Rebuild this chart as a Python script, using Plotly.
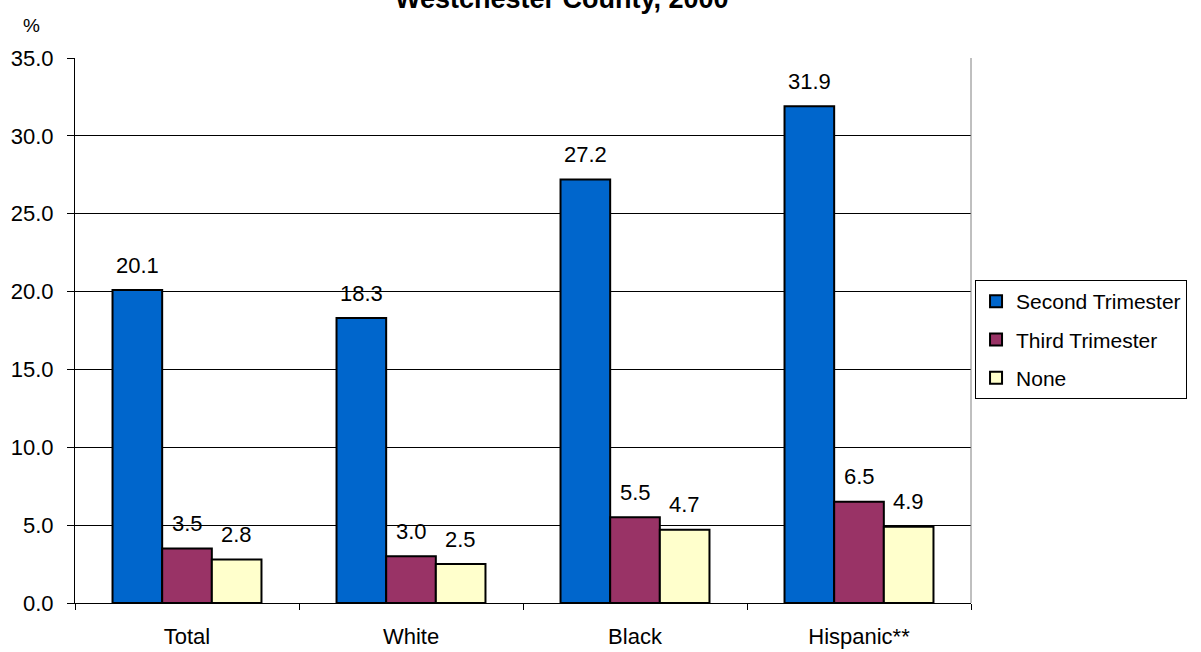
import plotly.graph_objects as go

categories = ["Total", "White", "Black", "Hispanic**"]
second_trimester = [20.1, 18.3, 27.2, 31.9]
third_trimester = [3.5, 3.0, 5.5, 6.5]
none_care = [2.8, 2.5, 4.7, 4.9]
series_names = ["Second Trimester", "Third Trimester", "None"]
y_ticks = [0, 5, 10, 15, 20, 25, 30, 35]

colors = ["#0066CC", "#993366", "#FFFFCC"]
FONT = "Liberation Sans, Arial, sans-serif"

fig = go.Figure()
all_series = [second_trimester, third_trimester, none_care]
for i, (name, vals, col) in enumerate(zip(series_names, all_series, colors)):
    fig.add_trace(go.Bar(
        x=categories, y=vals, name=name, legendgroup=f"g{i}",
        marker=dict(color=col, line=dict(color="black", width=2)),
    ))

# data labels above each bar
bar_px = 49.7
for i, vals in enumerate(all_series):
    for cat, v in zip(categories, vals):
        fig.add_annotation(
            x=cat, y=v, text=f"{v:.1f}", showarrow=False,
            xshift=(i - 1) * bar_px, yshift=25, yanchor="middle",
            font=dict(family=FONT, size=22, color="black"),
        )

fig.update_layout(
    width=1201, height=652,
    margin=dict(l=75, r=230, t=58, b=49, autoexpand=False),
    paper_bgcolor="white", plot_bgcolor="white",
    barmode="group", bargap=0.335, bargroupgap=0,
    font=dict(family=FONT, size=22, color="black"),
    showlegend=True,
    legend=dict(
        x=1.0045, y=0.5927, xanchor="left", yanchor="top",
        bordercolor="black", borderwidth=1, bgcolor="white",
        font=dict(family=FONT, size=21, color="black"),
        traceorder="grouped", tracegroupgap=8,
        entrywidth=190, entrywidthmode="pixels",
    ),
    xaxis=dict(
        showline=True, linecolor="black", linewidth=1,
        ticks="outside", tickson="boundaries", ticklen=6, tickcolor="black",
        tickfont=dict(family=FONT, size=22), ticklabelstandoff=14,
        showgrid=False, automargin=False,
    ),
    yaxis=dict(
        range=[0, 35], tickvals=y_ticks,
        ticktext=[f"{t:.1f}" for t in y_ticks],
        showline=True, linecolor="black", linewidth=1,
        ticks="outside", ticklen=7, tickcolor="black",
        tickfont=dict(family=FONT, size=22), ticklabelstandoff=9,
        showgrid=True, gridcolor="black", gridwidth=1,
        zeroline=False, automargin=False,
    ),
    shapes=[dict(type="line", xref="paper", yref="paper", x0=1, x1=1, y0=0, y1=1,
                 line=dict(color="#808080", width=1))],
)

fig.add_annotation(
    xref="paper", yref="paper", x=(562 - 75) / 896, y=1 + (58 + 1) / 545,
    text="<b>Westchester County, 2000</b>", showarrow=False,
    xanchor="center", yanchor="middle",
    font=dict(family=FONT, size=27, color="black"),
)
fig.add_annotation(
    xref="paper", yref="paper", x=(31 - 75) / 896, y=1 + (58 - 25) / 545,
    text="%", showarrow=False, xanchor="center", yanchor="middle",
    font=dict(family=FONT, size=19, color="black"),
)

fig.write_html("out.html", post_script="document.body.style.margin='0';",
               config={"displayModeBar": False})
